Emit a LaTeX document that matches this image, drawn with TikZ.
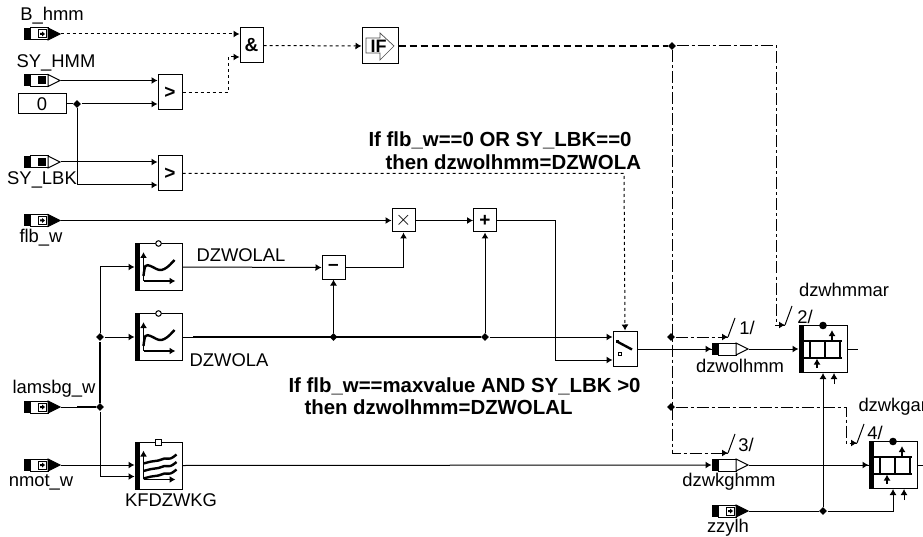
\documentclass[tikz,border=0pt]{standalone}
\usepackage{fontspec}
\setmainfont{Liberation Sans}
\usetikzlibrary{arrows.meta}
\usetikzlibrary{shapes.geometric}
\usetikzlibrary{calc}

\tikzset{
  tip/.tip={Latex[length=6pt,width=7pt]},
  lbl/.style={inner sep=0pt,font=\fontsize{18.4}{20}\selectfont},
  note/.style={inner sep=0pt,anchor=west,font=\fontsize{20.4}{22}\selectfont\bfseries},
  blk/.style={draw,fill=white,inner sep=0pt,minimum width=#1,font=\fontsize{19}{20}\selectfont\bfseries},
  gate/.style={blk=24pt,minimum height=35pt},
  opbox/.style={blk=23pt,minimum height=23pt},
  tabbox/.style={blk=47pt,minimum height=47pt},
  portbox/.style={inner sep=0pt,minimum width=36pt,minimum height=12pt},
  junct/.style={diamond,fill=black,inner sep=0pt,minimum size=8pt},
  dots/.style={dash pattern=on 3pt off 3pt},
  longdash/.style={dash pattern=on 7pt off 4pt,line width=1.3pt},
  dashdot/.style={dash pattern=on 12pt off 3pt on 3pt off 3pt},
  icon/.style={line width=2.4pt}
}

\newcommand{\portbody}[1]{
  \draw[shift={(#1.center)},fill=white] (-12,-6) rectangle (6,6);
  \fill[shift={(#1.center)}] (-18,-6) rectangle (-12,6);
}
\newcommand{\portin}[1]{
  \portbody{#1}
  \filldraw[shift={(#1.center)}] (6,-6) -- (18,0) -- (6,6) -- cycle;
  \draw[shift={(#1.center)},fill=white] (-4,-4) rectangle (4,4);
  \fill[shift={(#1.center)}] (-2,-1) rectangle (0,1) (0,-2.5) -- (3,0) -- (0,2.5) -- cycle;
}
\newcommand{\portsy}[1]{
  \portbody{#1}
  \draw[shift={(#1.center)},fill=white] (6,-6) -- (18,0) -- (6,6) -- cycle;
  \fill[shift={(#1.center)}] (-4,-4) rectangle (4,4);
}
\newcommand{\portout}[1]{
  \portbody{#1}
  \draw[shift={(#1.center)},fill=white] (6,-6) -- (18,0) -- (6,6) -- cycle;
}
\newcommand{\tabbase}[1]{
  \fill[shift={(#1.center)}] (-23.5,-23.5) rectangle (-18.5,23.5);
  \draw[shift={(#1.center)},line width=1.6pt,-tip] (-15,13.5) -- (-15,-15);
  \draw[shift={(#1.center)},line width=1.6pt,-tip] (-15,14) -- (17,14);
}
\newcommand{\curveicon}[1]{
  \tabbase{#1}
  \draw[shift={(#1.center)},icon] plot[smooth,tension=.6] coordinates {(-15,9) (-13,-1) (-8,-1) (-2,2) (3,3) (9,0) (16,-7)};
  \draw[shift={(#1.center)},fill=white] (0,-23.5) circle (2.8);
}
\newcommand{\fieldicon}[1]{
  \tabbase{#1}
  \foreach \dy in {0,7.5,15}
    \draw[shift={(#1.center)},icon] plot[smooth,tension=.7] coordinates {(-15,-2+\dy) (-7,-4+\dy) (0,-5+\dy) (6,-7+\dy) (12,-7+\dy) (18,-11+\dy)};
  \draw[shift={(#1.center)},fill=white] (-3,-26.5) rectangle (3,-20.5);
}
\newcommand{\memicon}[1]{
  \fill[shift={(#1.center)}] (-24,-23.5) rectangle (-19,23.5);
  \draw[shift={(#1.center)},icon] (-19,-8) -- (19,-8) (-19,9) -- (19,9) (-13,-8) -- (-13,9) (2,-8) -- (2,9) (17,-8) -- (17,9);
  \draw[shift={(#1.center)},line width=1.8pt,-tip] (9,-8) -- (9,-19);
  \draw[shift={(#1.center)},line width=1.8pt,-tip] (-6,19) -- (-6,9.5);
  \fill[shift={(#1.center)}] (0,-23.5) circle (3.8);
}

\begin{document}
\begin{tikzpicture}[x=1pt,y=-1pt,line width=1pt]
\useasboundingbox (0,0) rectangle (923,537);

\node[portbox] (bhmm) at (42,34) {}; \portin{bhmm}
\node[portbox] (syhmm) at (42,80.5) {}; \portsy{syhmm}
\node[portbox] (sylbk) at (42,162) {}; \portsy{sylbk}
\node[portbox] (flbw) at (42,220.5) {}; \portin{flbw}
\node[portbox] (lamsbg) at (42,407) {}; \portin{lamsbg}
\node[portbox] (nmot) at (42,465) {}; \portin{nmot}
\node[portbox] (zzylh) at (730,511) {}; \portin{zzylh}
\node[portbox] (wolhmm) at (730,349) {}; \portout{wolhmm}
\node[portbox] (wkghmm) at (730,465) {}; \portout{wkghmm}

\node[lbl] (bhmmlbl) at (52,16) {B\_hmm};
\node[lbl] (syhmmlbl) at (56,63) {SY\_HMM};
\node[lbl] (sylbklbl) at (42,180) {SY\_LBK};
\node[lbl] (flbwlbl) at (41,238) {flb\_w};
\node[lbl] (lamsbglbl) at (54,389) {lamsbg\_w};
\node[lbl] (nmotlbl) at (41,482) {nmot\_w};
\node[lbl] (zzylhlbl) at (728,528) {zzylh};
\node[lbl] (wolhmmlbl) at (740,366) {dzwolhmm};
\node[lbl] (wkghmmlbl) at (729,482) {dzwkghmm};
\node[lbl] (dzwolallbl) at (241,255) {DZWOLAL};
\node[lbl] (dzwolalbl) at (229,360) {DZWOLA};
\node[lbl] (kflbl) at (171,500) {KFDZWKG};
\node[lbl] (memalbl) at (844,290) {dzwhmmar};
\node[lbl,anchor=west] (memblbl) at (858,407) {dzwkgar};
\node[lbl] (onelbl) at (747,328) {1/};
\node[lbl] (twolbl) at (805,317) {2/};
\node[lbl] (threelbl) at (746,445) {3/};
\node[lbl] (fourlbl) at (875,433) {4/};

\node[note] (noteone) at (368,140) {If flb\_w==0 OR SY\_LBK==0};
\node[note] (notetwo) at (385,162) {then dzwolhmm=DZWOLA};
\node[note] (notethree) at (288,386) {If flb\_w==maxvalue AND SY\_LBK >0};
\node[note] (notefour) at (304,407) {then dzwolhmm=DZWOLAL};

\node[blk=48pt,minimum height=20pt,font=\fontsize{18.4}{20}\selectfont] (zero) at (42,104) {0};
\node[blk=23pt,minimum height=35pt] (andgate) at (251.5,45.5) {\&};
\node[gate] (gtone) at (170,92.5) {>};
\node[gate] (gttwo) at (170,173.5) {>};
\node[blk=36pt,minimum height=36pt] (ifblk) at (380,46) {};
\node[opbox,font=\fontsize{22}{22}\selectfont] (mult) at (403.5,220.5) {$\times$};
\node[opbox] (plus) at (485,220.5) {+};
\node[opbox] (minus) at (333.5,267.5) {--};
\node[gate] (switch) at (625,348.5) {};
\node[tabbox] (curvea) at (158.5,267) {}; \curveicon{curvea}
\node[tabbox] (curveb) at (158.5,337) {}; \curveicon{curveb}
\node[tabbox] (kfmap) at (158.5,465.5) {}; \fieldicon{kfmap}
\node[tabbox,minimum width=48pt] (mema) at (823,349) {}; \memicon{mema}
\node[tabbox,minimum width=48pt] (memb) at (893,465) {}; \memicon{memb}

\draw[shift={(ifblk.center)},draw=black!70,line width=.7pt] (-14,-8) -- (0,-8) -- (0,-13) -- (14,0) -- (0,14) -- (0,7) -- (-14,7) -- cycle;
\node[inner sep=0pt,font=\fontsize{18}{20}\selectfont\bfseries] (iftxt) at ($(ifblk.center)+(-1.5,0)$) {IF};
\draw[shift={(switch.center)},icon] (-8,-7) -- (7,1);
\fill[shift={(switch.center)}] (-9,-9) rectangle (-6,-6);
\draw[shift={(switch.center)},line width=.8pt] (-7,4) rectangle (-4,7);

\node[junct] (jzero) at (77,104) {};
\node[junct] (jlama) at (100,337) {};
\node[junct] (jlamb) at (100,407) {};
\node[junct] (jminus) at (333.5,337) {};
\node[junct] (jplus) at (485,337) {};
\node[junct] (jif) at (672,46) {};
\node[junct] (jsa) at (671,337) {};
\node[junct] (jsb) at (671,407) {};
\node[junct] (jzyl) at (823,511) {};
\coordinate (slasha) at (728,337);
\coordinate (slashb) at (785,325);
\coordinate (slashc) at (728,453);
\coordinate (slashd) at (857,443);

\draw[dots,-tip] (bhmm.east) -- (andgate.west |- bhmm);
\draw[-tip] (syhmm.east) -- (gtone.west |- syhmm);
\draw (zero) -- (jzero);
\draw[-tip] (jzero) -- (gtone.west |- jzero);
\draw[-tip] (sylbk.east) -- (gttwo.west |- sylbk);
\draw[-tip] (jzero) |- ([yshift=-11.5pt]gttwo.west);
\draw[dots,-tip] (gtone.east) -- (228,92.5) -- (228,57) -- ([yshift=-11.5pt]andgate.west);
\draw[dots,-tip] (andgate.east) -- (ifblk.west);
\draw[longdash] (ifblk.east) -- (jif);
\draw[dashdot] (jif) -- (776,46) -- (776,325) -- (slashb);
\draw[-tip] (775,325) -- (slashb);
\draw[dashdot] (jif) -- (672,453) -- (slashc);
\draw[-tip] (720,453) -- (slashc);
\draw[dashdot] (jsa) -- (slasha);
\draw[-tip] (720,337) -- (slasha);
\draw[dashdot] (jsb) -- (846,407) -- (846,443) -- (slashd);
\draw[-tip] (850,443) -- (slashd);
\draw (slasha) -- ($(slasha)+(7,-19)$);
\draw (slashb) -- ($(slashb)+(7,-19)$);
\draw (slashc) -- ($(slashc)+(7,-19)$);
\draw (slashd) -- ($(slashd)+(7,-19)$);
\draw[dots,-tip] (gttwo.east) -- (624,173.5) -- (switch.north);

\draw[-tip] (flbw.east) -- (mult.west |- flbw);
\draw[-tip] (mult.east) -- (plus.west);
\draw (plus.east) -- (555,220.5) -- (555,360);
\draw[-tip] (555,360) -- ([yshift=-11.5pt]switch.west);
\draw[-tip] (curvea.east) -- (minus.west);
\draw[-tip] (minus.east) -| (mult.south);
\draw[-tip] (jminus) -- (minus.south);
\draw[-tip] (jplus) -- (plus.south);
\draw (curveb.east) -- (193,337);
\draw[line width=2pt] (193,337) -- (jplus);
\draw[-tip] (jplus) -- (switch.west |- jplus);

\draw (lamsbg.east) -- (jlamb);
\draw[line width=2pt] (77,407) -- (jlamb);
\draw[line width=2pt] (jlamb) -- (jlama);
\draw[-tip] (jlama) -- (curveb.west);
\draw[-tip] (jlama) |- (curvea.west);
\draw[-tip] (nmot.east) -- (kfmap.west |- nmot);
\draw[-tip] (jlamb) |- ([yshift=-11pt]kfmap.west);
\draw[-tip] (kfmap.east) -- (wkghmm.west);
\draw (wkghmm.east) -- (memb.west);
\draw[-tip] (860,465) -- (memb.west);
\draw (switch.east |- wolhmm) -- (wolhmm.west);
\draw[-tip] (700,349) -- (wolhmm.west);
\draw[-tip] (wolhmm.east) -- (mema.west);
\draw (mema.east) -- (858,349);
\draw (memb.east) -- (923,465);

\draw (zzylh.east) -- (jzyl);
\draw[-tip] (jzyl) -| (memb.south);
\draw[-tip] (jzyl) -- (mema.south);
\draw[-tip] ($(mema.south)+(11,11)$) -- ($(mema.south)+(11,0)$);
\draw[-tip] ($(memb.south)+(11,11)$) -- ($(memb.south)+(11,0)$);
\end{tikzpicture}
\end{document}
